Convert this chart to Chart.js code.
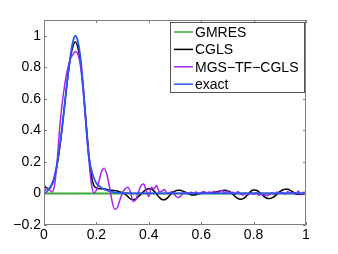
<!DOCTYPE html>
<html>
<head>
<meta charset="utf-8">
<script src="https://cdn.jsdelivr.net/npm/chart.js@4/dist/chart.umd.min.js"></script>
<style>
  html, body { margin: 0; padding: 0; background: #fff; }
  #wrap { width: 338px; height: 254px; position: relative; }
</style>
</head>
<body>
<div id="wrap"><canvas id="c"></canvas></div>
<script>
// sample grid, x = 0, 0.01, ..., 1
const xs = Array.from({ length: 101 }, (_, i) => i / 100);

const gmresX = [0, 1];
const gmres = [0, 0];

const cgls = [
  0.05, 0.035, 0.03, 0.055, 0.10, 0.18, 0.29, 0.43, 0.58, 0.73,
  0.85, 0.93, 0.96, 0.92, 0.82, 0.66, 0.46, 0.27, 0.12, 0.05,
  0.035, 0.03, 0.03, 0.028, 0.025, 0.022, 0.02, 0.018, 0.015, 0.01,
  0.005, -0.005, -0.02, -0.035, -0.04, -0.035, -0.02, -0.005, 0.012, 0.025,
  0.03, 0.028, 0.015, -0.005, -0.025, -0.038, -0.04, -0.03, -0.012, 0.005,
  0.015, 0.02, 0.02, 0.015, 0.008, 0.0, -0.008, -0.01, -0.008, -0.003,
  0.0, 0.003, 0.005, 0.005, 0.005, 0.008, 0.01, 0.015, 0.018, 0.02,
  0.018, 0.01, -0.005, -0.02, -0.032, -0.036, -0.033, -0.02, -0.002, 0.015,
  0.022, 0.02, 0.01, -0.005, -0.02, -0.03, -0.032, -0.028, -0.018, -0.002,
  0.012, 0.022, 0.027, 0.026, 0.02, 0.01, 0.0, -0.005, -0.005, -0.003,
  0.0
];

const mgs = [
  0.01, 0.03, 0.025, 0.01, 0.05, 0.20, 0.42, 0.58, 0.70, 0.79,
  0.85, 0.88, 0.90, 0.88, 0.80, 0.64, 0.44, 0.24, 0.07, 0.005,
  0.02, 0.08, 0.14, 0.16, 0.12, 0.04, -0.05, -0.10, -0.09, -0.04,
  0.005, 0.03, 0.04, 0.01, -0.05, -0.04, 0.005, 0.05, 0.06, 0.02,
  -0.02, 0.04, 0.03, 0.05, 0.01, 0.015, 0.025, 0.0, 0.005, 0.012,
  -0.012, -0.025, -0.02, 0.0, 0.006, -0.004, 0.008, 0.002, 0.01, -0.003,
  0.006, 0.012, 0.004, 0.01, 0.006, 0.014, 0.003, 0.012, 0.018, 0.006,
  0.015, 0.004, 0.008, -0.006, 0.012, -0.004, -0.01, 0.002, -0.008, 0.005,
  -0.006, 0.004, -0.012, -0.003, -0.01, -0.015, -0.008, 0.004, -0.006, 0.01,
  0.002, 0.008, -0.004, 0.012, 0.003, 0.006, -0.006, 0.015, -0.008, 0.008,
  0.004
];

const exact = [
  0.0, 0.01, 0.03, 0.06, 0.11, 0.19, 0.30, 0.43, 0.58, 0.73,
  0.86, 0.96, 1.0, 0.96, 0.85, 0.67, 0.45, 0.25, 0.155, 0.10,
  0.065, 0.048, 0.035, 0.026, 0.019, 0.014, 0.01, 0.007, 0.005, 0.004,
  0.003, 0.002, 0.002, 0.001, 0.001, 0.001, 0, 0, 0, 0,
  0, 0, 0, 0, 0, 0, 0, 0, 0, 0,
  0, 0, 0, 0, 0, 0, 0, 0, 0, 0,
  0, 0, 0, 0, 0, 0, 0, 0, 0, 0,
  0, 0, 0, 0, 0, 0, 0, 0, 0, 0,
  0, 0, 0, 0, 0, 0, 0, 0, 0, 0,
  0, 0, 0, 0, 0, 0, 0, 0, 0, 0,
  0
];

const xTicks = [0, 0.2, 0.4, 0.6, 0.8, 1];
const yTicks = [-0.2, 0, 0.2, 0.4, 0.6, 0.8, 1];

const labels = ['GMRES', 'CGLS', 'MGS\u2212TF\u2212CGLS', 'exact'];
const colors = ['#3aa935', '#000000', '#a326f2', '#2b55f5'];

const pts = (xv, yv) => xv.map((x, i) => ({ x: x, y: yv[i] }));

const FONT = '"Liberation Sans", Arial, sans-serif';
const fmt = v => (v < 0 ? '\u2212' : '') + String(Math.abs(Math.round(v * 10) / 10));

// matlab style box, inward ticks and legend
const axesBox = {
  id: 'axesBox',
  afterDraw(chart) {
    const ctx = chart.ctx;
    const a = chart.chartArea;
    const sx = chart.scales.x, sy = chart.scales.y;
    ctx.save();
    ctx.strokeStyle = '#7f7f7f';
    ctx.lineWidth = 1;
    ctx.beginPath();
    ctx.rect(a.left + 0.5, a.top + 0.5, a.right - a.left - 1, a.bottom - a.top - 1);
    xTicks.forEach(v => {
      const p = Math.round(sx.getPixelForValue(v)) + 0.5;
      ctx.moveTo(p, a.bottom); ctx.lineTo(p, a.bottom - 3);
      ctx.moveTo(p, a.top); ctx.lineTo(p, a.top + 3);
    });
    yTicks.forEach(v => {
      const p = Math.round(sy.getPixelForValue(v)) + 0.5;
      ctx.moveTo(a.left, p); ctx.lineTo(a.left + 3, p);
      ctx.moveTo(a.right, p); ctx.lineTo(a.right - 3, p);
    });
    ctx.stroke();

    // legend
    const lx = 170, ly = 22, lw = 134, lh = 70;
    ctx.fillStyle = '#fff';
    ctx.fillRect(lx, ly, lw, lh);
    ctx.strokeStyle = '#555';
    ctx.strokeRect(lx + 0.5, ly + 0.5, lw, lh);
    ctx.font = '14px ' + FONT;
    ctx.textBaseline = 'middle';
    ctx.textAlign = 'left';
    chart.data.datasets.forEach((ds, i) => {
      const y = ly + 10 + i * 17.4;
      ctx.strokeStyle = ds.borderColor;
      ctx.lineWidth = 1.5;
      ctx.beginPath();
      ctx.moveTo(lx + 4, y); ctx.lineTo(lx + 23, y);
      ctx.stroke();
      ctx.fillStyle = '#000';
      ctx.fillText(ds.label, lx + 25, y + 1);
    });
    ctx.restore();
  }
};

new Chart(document.getElementById('c'), {
  type: 'line',
  data: {
    datasets: [
      { label: labels[0], data: pts(gmresX, gmres), borderColor: colors[0], borderWidth: 2, order: 3 },
      { label: labels[1], data: pts(xs, cgls), borderColor: colors[1], borderWidth: 1.5, order: 2 },
      { label: labels[2], data: pts(xs, mgs), borderColor: colors[2], borderWidth: 1.5, order: 1 },
      { label: labels[3], data: pts(xs, exact), borderColor: colors[3], borderWidth: 1.8, order: 0 }
    ]
  },
  options: {
    responsive: true,
    maintainAspectRatio: false,
    animation: false,
    layout: { padding: { top: 20, right: 32, left: 0, bottom: 0 } },
    elements: { point: { radius: 0 }, line: { tension: 0.35, cubicInterpolationMode: 'monotone' } },
    plugins: { legend: { display: false }, tooltip: { enabled: false } },
    scales: {
      x: {
        type: 'linear', min: 0, max: 1,
        grid: { display: false, drawTicks: false },
        border: { display: false },
        afterFit: s => { s.height = 29; },
        afterBuildTicks: s => { s.ticks = xTicks.map(v => ({ value: v })); },
        ticks: { color: '#000', font: { family: FONT, size: 14 }, padding: 2, maxRotation: 0, callback: fmt }
      },
      y: {
        type: 'linear', min: -0.2, max: 1.1,
        grid: { display: false, drawTicks: false },
        border: { display: false },
        afterFit: s => { s.width = 44; },
        afterBuildTicks: s => { s.ticks = yTicks.map(v => ({ value: v })); },
        ticks: { color: '#000', font: { family: FONT, size: 14 }, padding: 3, callback: fmt }
      }
    }
  },
  plugins: [axesBox]
});
</script>
</body>
</html>
